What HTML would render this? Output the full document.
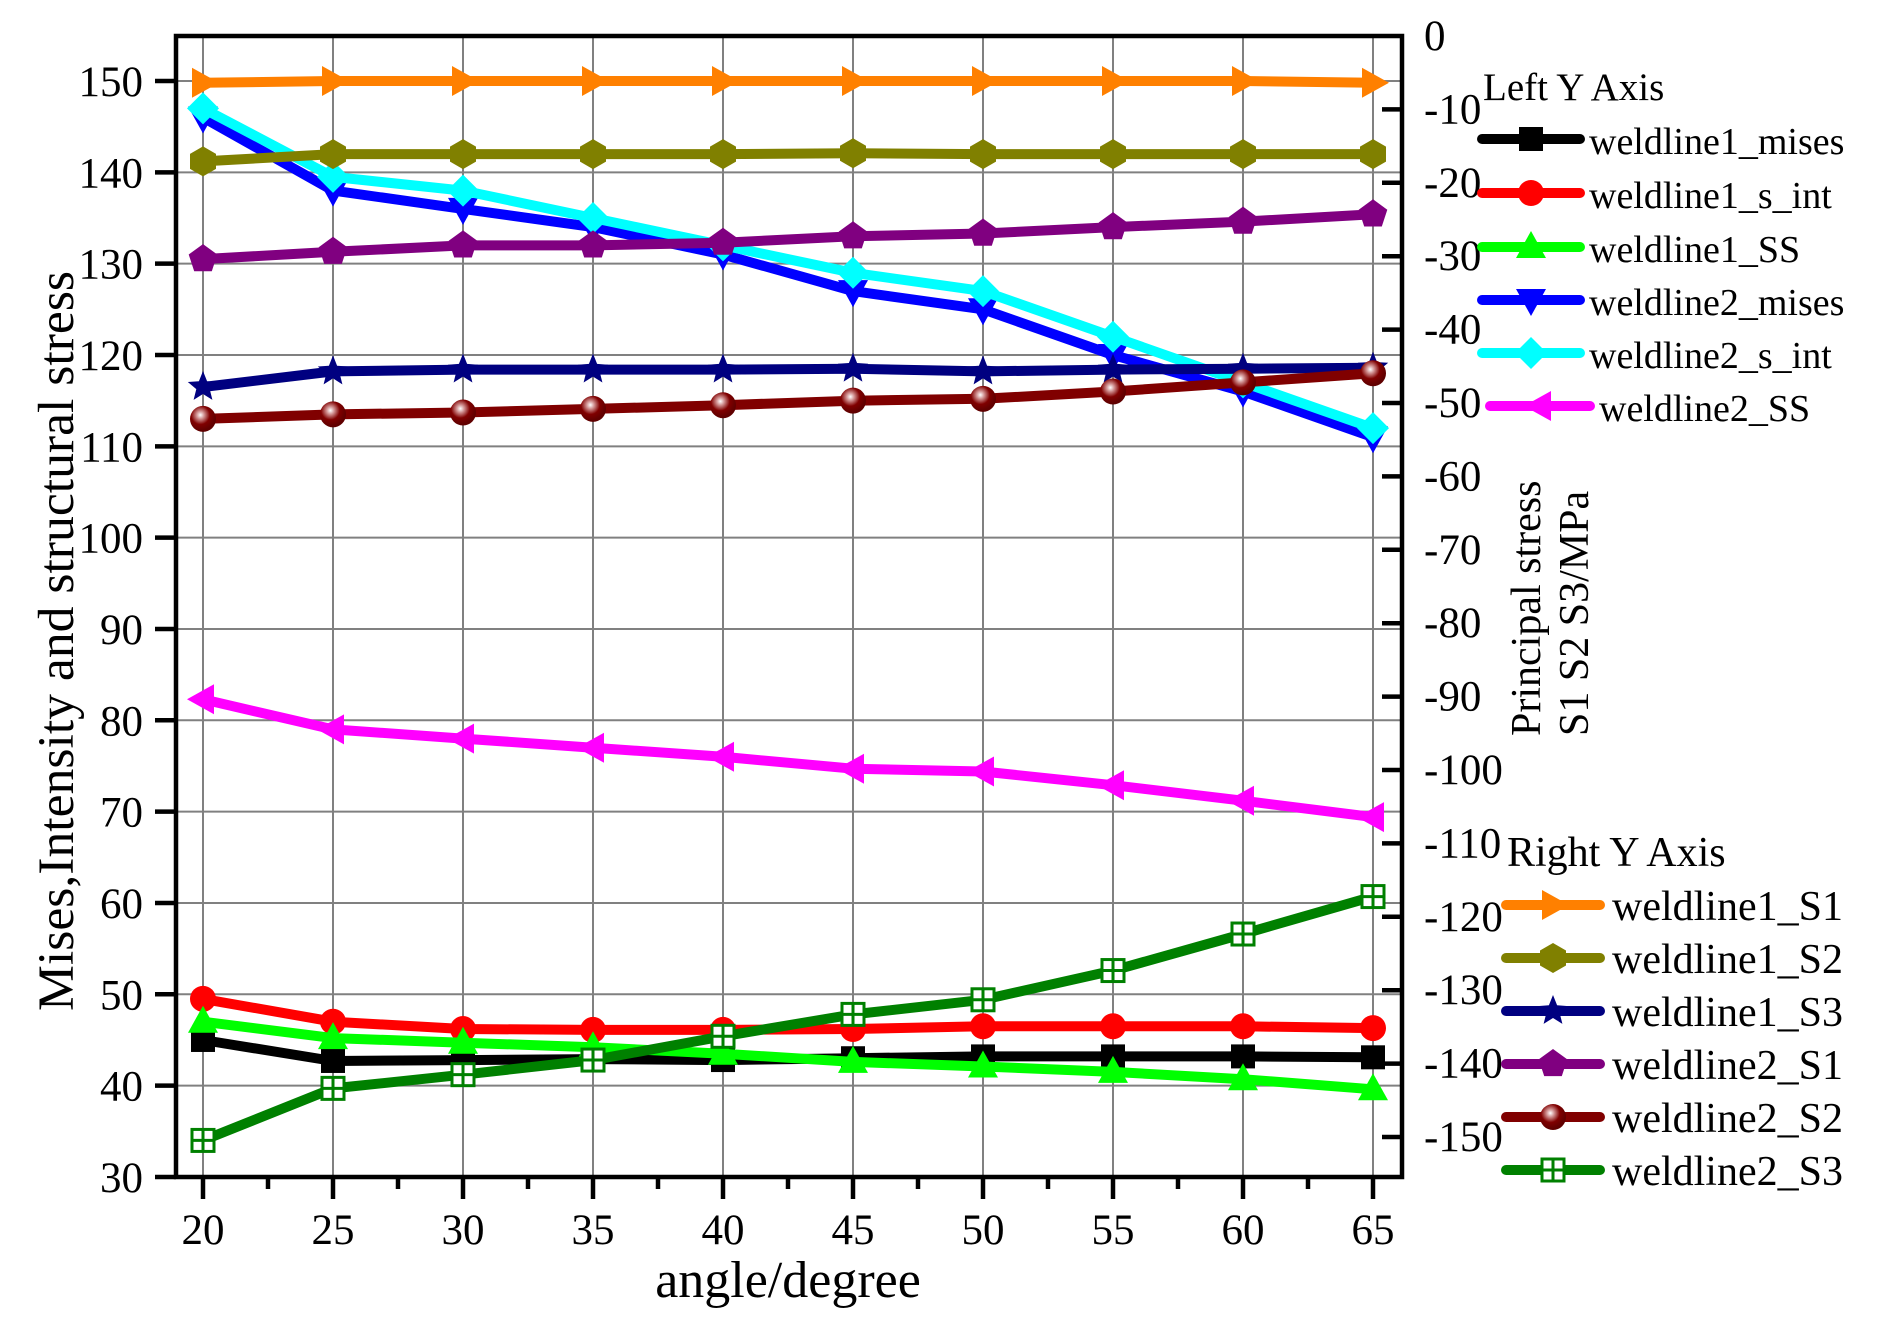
<!DOCTYPE html>
<html><head><meta charset="utf-8">
<style>
html,body{margin:0;padding:0;background:#fff;}
svg{display:block;}
text{font-family:"Liberation Serif",serif;fill:#000;}
</style></head>
<body>
<svg id="s" xmlns="http://www.w3.org/2000/svg" width="1892" height="1341" viewBox="0 0 1892 1341">
<defs>
<radialGradient id="sph" cx="0.4" cy="0.35" r="0.6">
<stop offset="0" stop-color="#fff"/><stop offset="0.25" stop-color="#d09090"/><stop offset="0.6" stop-color="#800000"/><stop offset="1" stop-color="#600000"/>
</radialGradient>
</defs>
<g id="grid" stroke="#808080" stroke-width="2"></g>
<g id="data"></g>
<rect x="176" y="36" width="1226" height="1141" fill="none" stroke="#000" stroke-width="4.5"/>
<g id="ticks" stroke="#000" stroke-width="4.5"></g>
<g id="labels" font-size="43"></g>

<text x="788" y="1297" font-size="52" text-anchor="middle">angle/degree</text>
<text transform="translate(73,641) rotate(-90)" font-size="51" text-anchor="middle" textLength="740" lengthAdjust="spacingAndGlyphs">Mises,Intensity and structural stress</text>
<text transform="translate(1540,736) rotate(-90)" font-size="42">Principal stress</text>
<text transform="translate(1588,736) rotate(-90)" font-size="42">S1 S2 S3/MPa</text>

<text x="1483" y="100" font-size="39">Left Y Axis</text>
<text x="1507" y="866" font-size="42">Right Y Axis</text>
<g id="legend"></g>
</svg>
<script>
var NS="http://www.w3.org/2000/svg";
function el(p,t,a,txt){var e=document.createElementNS(NS,t);for(var k in a)e.setAttribute(k,a[k]);if(txt!==undefined)e.textContent=txt;p.appendChild(e);return e;}
function X(a){return 203+(a-20)*26;}
function Y(v){return 81+(150-v)*9.133;}
var grid=document.getElementById('grid'),tk=document.getElementById('ticks'),lb=document.getElementById('labels');
for(var a=20;a<=65;a+=5){el(grid,'line',{x1:X(a),y1:36,x2:X(a),y2:1177});
 el(tk,'line',{x1:X(a),y1:1177,x2:X(a),y2:1199});
 el(lb,'text',{x:X(a),y:1244,'text-anchor':'middle'},String(a));
 if(a<65)el(tk,'line',{x1:X(a+2.5),y1:1177,x2:X(a+2.5),y2:1189});}
for(var v=30;v<=150;v+=10){var y=Y(v);if(v>30)el(grid,'line',{x1:176,y1:y,x2:1402,y2:y});
 el(tk,'line',{x1:155,y1:y,x2:176,y2:y});
 el(lb,'text',{x:143,y:y+15,'text-anchor':'end'},String(v));}
for(var r=0;r<=150;r+=10){var y=36+r*7.34;
 if(r>0)el(tk,'line',{x1:1382,y1:y,x2:1402,y2:y});
 el(lb,'text',{x:1424,y:y+14},r==0?'0':'-'+r);}
var ang=[20,25,30,35,40,45,50,55,60,65];
var S=[
{n:'weldline1_mises',c:'#000',m:'sq',d:[45,42.7,42.8,42.9,42.8,43,43.2,43.2,43.2,43.1]},
{n:'weldline1_s_int',c:'#ff0000',m:'ci',d:[49.5,47,46.2,46.1,46.1,46.2,46.5,46.5,46.5,46.3]},
{n:'weldline1_SS',c:'#00ff00',m:'tu',d:[47,45.2,44.7,44.2,43.5,42.6,42.1,41.5,40.7,39.6]},
{n:'weldline2_mises',c:'#0000ff',m:'td',d:[146,138,136,134,131,127,125,120,116,111]},
{n:'weldline2_s_int',c:'#00ffff',m:'di',d:[147,139.5,138,135,132,129,127,122,117,112]},
{n:'weldline2_SS',c:'#ff00ff',m:'tl',d:[82.3,79,78,77,76,74.7,74.4,72.9,71.2,69.4]},
{n:'weldline1_S1',c:'#ff8000',m:'tr',d:[149.8,150,150,150,150,150,150,150,150,149.8]},
{n:'weldline1_S2',c:'#808000',m:'hx',d:[141.2,142,142,142,142,142.1,142,142,142,142]},
{n:'weldline1_S3',c:'#000080',m:'st',d:[116.5,118.2,118.4,118.4,118.4,118.5,118.2,118.4,118.5,118.6]},
{n:'weldline2_S1',c:'#800080',m:'pe',d:[130.5,131.3,132,132,132.3,133,133.3,134,134.6,135.4]},
{n:'weldline2_S2',c:'#800000',m:'sp',d:[113,113.5,113.7,114.1,114.5,115,115.2,116,117,118]},
{n:'weldline2_S3',c:'#008000',m:'os',d:[34,39.7,41.2,42.8,45.4,47.8,49.4,52.6,56.6,60.7]}
];
function poly(p,pts,c){el(p,'polygon',{points:pts.map(function(q){return q[0].toFixed(1)+','+q[1].toFixed(1);}).join(' '),fill:c});}
function marker(p,m,x,y,c){
 if(m=='sq')el(p,'rect',{x:x-12,y:y-12,width:24,height:24,fill:c});
 else if(m=='ci')el(p,'circle',{cx:x,cy:y,r:13,fill:c});
 else if(m=='tu')poly(p,[[x,y-16],[x+15,y+11],[x-15,y+11]],c);
 else if(m=='td')poly(p,[[x,y+16],[x+15,y-11],[x-15,y-11]],c);
 else if(m=='tl')poly(p,[[x-16,y],[x+11,y-15],[x+11,y+15]],c);
 else if(m=='tr')poly(p,[[x+16,y],[x-11,y-15],[x-11,y+15]],c);
 else if(m=='di')poly(p,[[x,y-16],[x+16,y],[x,y+16],[x-16,y]],c);
 else if(m=='hx'){var q=[];for(var i=0;i<6;i++){var t=Math.PI/6+i*Math.PI/3;q.push([x+15*Math.cos(t),y+15*Math.sin(t)]);}poly(p,q,c);}
 else if(m=='pe'){var q=[];for(var i=0;i<5;i++){var t=-Math.PI/2+i*2*Math.PI/5;q.push([x+15*Math.cos(t),y+15*Math.sin(t)]);}poly(p,q,c);}
 else if(m=='st'){var q=[];for(var i=0;i<10;i++){var t=-Math.PI/2+i*Math.PI/5,rr=i%2?7:16;q.push([x+rr*Math.cos(t),y+rr*Math.sin(t)]);}poly(p,q,c);}
 else if(m=='sp')el(p,'circle',{cx:x,cy:y,r:13,fill:'url(#sph)'});
 else if(m=='os'){el(p,'rect',{x:x-11,y:y-11,width:22,height:22,fill:'#fff',stroke:c,'stroke-width':3});
  el(p,'line',{x1:x,y1:y-11,x2:x,y2:y+11,stroke:c,'stroke-width':3});el(p,'line',{x1:x-11,y1:y,x2:x+11,y2:y,stroke:c,'stroke-width':3});}
}
var dg=document.getElementById('data');
S.forEach(function(s){var g=el(dg,'g',{});
 el(g,'polyline',{points:s.d.map(function(v,i){return X(ang[i])+','+Y(v).toFixed(1);}).join(' '),fill:'none',stroke:s.c,'stroke-width':10,'stroke-linejoin':'round','stroke-linecap':'round'});
 s.d.forEach(function(v,i){marker(g,s.m,X(ang[i]),Y(v),s.c);});});
var lg=document.getElementById('legend');
var rowsL=[139,193,247,300,353,406],rowsR=[905,958,1011,1064,1117,1170];
S.forEach(function(s,i){var y,x1,x2,tx,fs;
 if(i<6){y=rowsL[i];x1=1482;x2=1580;tx=1589;fs=38;if(i==5){x1=1490;x2=1590;tx=1599;}}
 else{y=rowsR[i-6];x1=1506;x2=1600;tx=1612;fs=42;}
 el(lg,'line',{x1:x1,y1:y,x2:x2,y2:y,stroke:s.c,'stroke-width':10,'stroke-linecap':'round'});
 marker(lg,s.m,(x1+x2)/2,y,s.c);
 el(lg,'text',{x:tx,y:y+15,'font-size':fs},s.n);});
</script>
</body></html>
